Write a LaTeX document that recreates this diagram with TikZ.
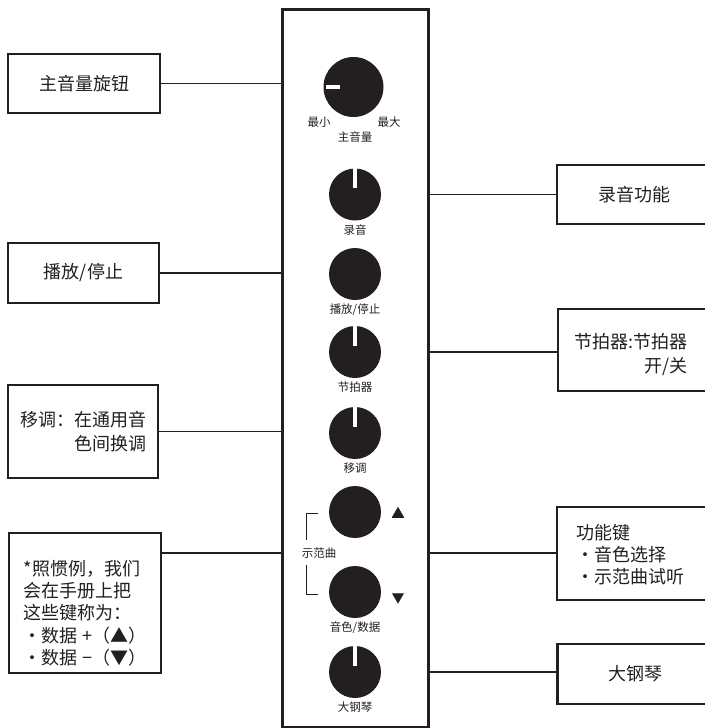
\documentclass[tikz,border=0pt]{standalone}
\usepackage{fontspec}
\newfontfamily\cjk{Noto Sans CJK SC}
\usetikzlibrary{calc,positioning}
\definecolor{ink}{HTML}{231F20}
\def\knobx{355}
\newcommand\knob[3]{%
  \node[disc] (#1) at (\knobx,#2) {};
  \node[knoblab, below=3pt of #1] (#1l) {#3};
}
\newcommand\pointer[1]{%
  \fill[white] ($(#1.north)+(-1.75,0)$) rectangle ($(#1.north)+(1.75,20)$);
}

\begin{document}
\begin{tikzpicture}
[x=1pt, y=-1pt,
 disc/.style={circle, fill=ink, inner sep=0, minimum size=52pt},
 knoblab/.style={inner sep=0.5pt, font=\cjk\fontsize{11.5}{12}\selectfont, text=ink},
 box/.style={draw=ink, line width=2.4pt, inner sep=0, font=\cjk\fontsize{18}{24}\selectfont, text=ink},
 boxtxt/.style={inner sep=0, font=\cjk\fontsize{18}{24}\selectfont, text=ink},
 wire/.style={draw=ink, line width=1.8pt},
 brk/.style={draw=ink, line width=1pt}]
\useasboundingbox (0,0) rectangle (704,728);
% front panel
\node[draw=ink, line width=3pt, inner sep=0, minimum width=146pt, minimum height=718pt] (panel) at (355,368) {};
% knobs
\node[disc, minimum size=60pt] (vknob) at (353.5,87) {};
\fill[white] ($(vknob.west)+(2.5,-1.75)$) rectangle ($(vknob.west)+(16.5,1.75)$);
\node[knoblab] (vmin) at (319,122) {最小};
\node[knoblab] (vmax) at (389,122) {最大};
\node[knoblab] (vlab) at (355,137) {主音量};
\knob{rec}{194.5}{录音}
\knob{play}{274}{播放/停止}
\knob{metro}{352}{节拍器}
\knob{trans}{433}{移调}
\knob{up}{512}{}
\knob{down}{592}{音色/数据}
\knob{piano}{672}{大钢琴}
\foreach \k in {rec, metro, trans, piano}
  \pointer{\k}
\node[knoblab, font=\cjk\fontsize{13}{13}\selectfont] (uptri) at (398,513) {▲};
\node[knoblab, font=\cjk\fontsize{13}{13}\selectfont] (downtri) at (398,599) {▼};
\node[knoblab] (demo) at (319,553) {示范曲};
\draw[brk] (318,513) -| (306,540);
\draw[brk] (306,565) |- (318,594);
% left boxes
\node[box, minimum width=152pt, minimum height=59pt] (bvol) at (84,83.5) {主音量旋钮};
\node[box, minimum width=151pt, minimum height=60pt] (bplay) at (83.5,273) {播放/停止};
\node[box, minimum width=150pt, minimum height=93pt, align=right] (btrans) at (83,431.5) {移调：在通用音\\色间换调};
\node[box, minimum width=152pt, minimum height=140pt] (bnote) at (85,603) {};
\node[boxtxt, align=left, font=\cjk\fontsize{18}{22.3}\selectfont] (bnotet) at ($(bnote)+(0,10)$) {*照惯例，我们\\会在手册上把\\这些键称为：\\・数据 +（▲）\\・数据 −（▼）};
% right boxes
\node[box, minimum width=155pt, minimum height=59pt] (rrec) at (634.5,194.5) {录音功能};
\node[box, minimum width=154pt, minimum height=82pt] (rmetro) at (635,350) {};
\node[boxtxt, align=right, anchor=east] (rmetrot) at (688,355) {节拍器:节拍器\\开/关};
\node[box, minimum width=155pt, minimum height=93pt] (rfunc) at (634.5,553.5) {};
\node[boxtxt, align=left, anchor=west, font=\cjk\fontsize{18}{22}\selectfont] (rfunct) at (576,555) {功能键\\・音色选择\\・示范曲试听};
\node[box, minimum width=155pt, minimum height=60pt] (rpiano) at (635,674) {大钢琴};
% connectors
\draw[wire] (bvol.east) -- (bvol -| panel.west);
\draw[wire] (bplay.east) -- (bplay -| panel.west);
\draw[wire] (btrans.east) -- (btrans -| panel.west);
\draw[wire] (bnote.east |- demo) -- (panel.west |- demo);
\draw[wire] (panel.east |- rrec) -- (rrec.west);
\draw[wire] (panel.east |- metro) -- (rmetro.west |- metro);
\draw[wire] (panel.east |- demo) -- (rfunc.west |- demo);
\draw[wire] (panel.east |- piano) -- (rpiano.west |- piano);
\end{tikzpicture}
\end{document}
